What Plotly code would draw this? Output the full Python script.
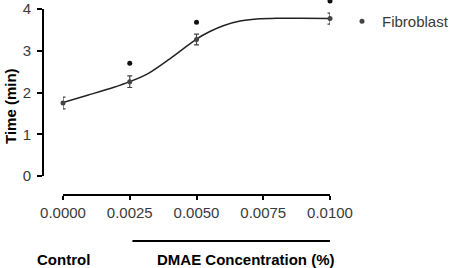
import plotly.graph_objects as go

# Data
conc = [0.0, 0.0025, 0.005, 0.01]
time_min = [1.75, 2.26, 3.27, 3.77]
err = [0.14, 0.14, 0.13, 0.13]
sig_conc = [0.0025, 0.005, 0.01]
sig_y = [2.70, 3.68, 4.19]
# fitted curve
fit_conc = [0.0, 0.00095, 0.00188, 0.0025, 0.0032, 0.00394, 0.00445, 0.005,
            0.0055, 0.006, 0.00663, 0.00725, 0.008, 0.00888, 0.01]
fit_time = [1.76, 1.94, 2.12, 2.26, 2.46, 2.78, 3.02, 3.28,
            3.46, 3.60, 3.71, 3.76, 3.78, 3.78, 3.77]
tick_vals = [0.0, 0.0025, 0.005, 0.0075, 0.01]
tick_text = ["0.0000", "0.0025", "0.0050", "0.0075", "0.0100"]
y_ticks = [0, 1, 2, 3, 4]

W, H = 450, 268
L, R, T, B = 43, 120, 0, 73
pw = W - L - R
ph = H - T - B
Y0PX, Y4PX = 176, 9  # pixel rows of y=0 and y=4

FONT = "Liberation Sans, Arial, sans-serif"
GRAY = "#3a3a3a"

fig = go.Figure()
fig.add_trace(go.Scatter(x=fit_conc, y=fit_time, mode="lines",
                         line=dict(shape="spline", smoothing=0.8, color="#222222", width=1.5),
                         showlegend=False, hoverinfo="skip", cliponaxis=False))
fig.add_trace(go.Scatter(x=conc, y=time_min, mode="markers", name="Fibroblast",
                         marker=dict(color="#444444", size=5),
                         error_y=dict(type="data", array=err, color="#444444", thickness=1.2, width=2.5),
                         cliponaxis=False))
fig.add_trace(go.Scatter(x=sig_conc, y=sig_y, mode="markers", marker=dict(color="#111111", size=5),
                         showlegend=False, cliponaxis=False, yaxis="y2"))

x_dom0 = (63 - L) / pw
y_dom0 = (195 - Y0PX) / ph
y_dom1 = (195 - Y4PX) / ph
y2_top = 4 * (Y0PX - T) / (Y0PX - Y4PX)

fig.update_layout(
    width=W, height=H,
    margin=dict(l=L, r=R, t=T, b=B, pad=0, autoexpand=False),
    paper_bgcolor="white", plot_bgcolor="rgba(0,0,0,0)",
    font=dict(family=FONT, size=15, color=GRAY),
    xaxis=dict(domain=[x_dom0, 1], range=[0, 0.01], anchor="free", position=0,
               tickvals=tick_vals, ticktext=tick_text, showgrid=False, zeroline=False,
               showline=True, linecolor="black", linewidth=2, ticks="outside", ticklen=4,
               tickwidth=2, tickcolor="black", tickfont=dict(size=15, color=GRAY)),
    yaxis=dict(domain=[y_dom0, y_dom1], range=[0, 4], anchor="free", position=0,
               tickvals=y_ticks, showgrid=False, zeroline=False,
               showline=True, linecolor="black", linewidth=2, ticks="outside", ticklen=5,
               tickwidth=2, tickcolor="black", tickfont=dict(size=15, color=GRAY),
               ticklabelstandoff=3),
    yaxis2=dict(domain=[y_dom0, 1], range=[0, y2_top], visible=False,
                anchor="free", position=0, showgrid=False, zeroline=False),
    legend=dict(x=(342 - L) / pw, y=(195 - 5) / ph, xanchor="left", yanchor="top",
                font=dict(size=15, color=GRAY), bgcolor="rgba(0,0,0,0)"),
    showlegend=True,
)

fig.add_annotation(text="<b>Time (min)</b>", xref="paper", yref="paper",
                   x=(10 - L) / pw, y=(195 - 106) / ph, textangle=-90, showarrow=False,
                   font=dict(size=15, color="black", family=FONT), xanchor="center", yanchor="middle")
fig.add_annotation(text="<b>Control</b>", xref="x", yref="paper", x=0.0, y=(195 - 259) / ph,
                   showarrow=False, font=dict(size=15, color="black", family=FONT),
                   xanchor="center", yanchor="middle")
fig.add_annotation(text="<b>DMAE Concentration (%)</b>", xref="x", yref="paper", x=0.00686, y=(195 - 259) / ph,
                   showarrow=False, font=dict(size=15, color="black", family=FONT),
                   xanchor="center", yanchor="middle")
fig.add_shape(type="line", xref="x", yref="paper", x0=0.0026, x1=0.0102,
              y0=(195 - 241) / ph, y1=(195 - 241) / ph, line=dict(color="black", width=2))

fig.write_html("out.html", config={"displayModeBar": False},
               post_script="document.body.style.margin='0';document.body.style.overflow='hidden';")
